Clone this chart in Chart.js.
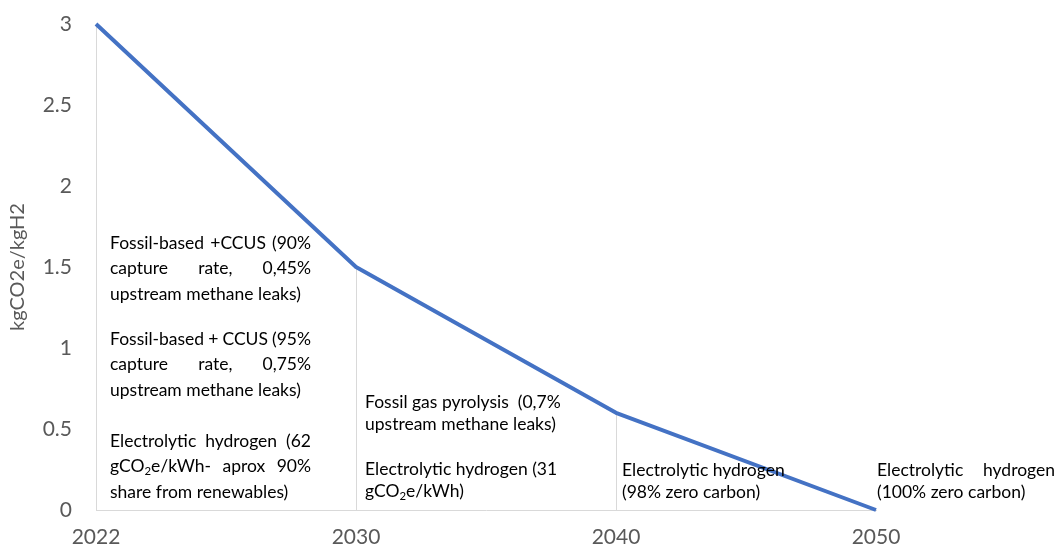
<!DOCTYPE html>
<html>
<head>
<meta charset="utf-8">
<script src="https://cdn.jsdelivr.net/npm/chart.js@4.4.1/dist/chart.umd.min.js"></script>
<style>
  html, body { margin: 0; padding: 0; background: #fff; }
  #wrap { width: 1060px; height: 549px; }
</style>
</head>
<body>
<div id="wrap"><canvas id="chart" width="1060" height="549"></canvas></div>
<script>
// data
const years = ["2022", "2030", "2040", "2050"];
const intensity = [3, 1.5, 0.6, 0]; // kgCO2e/kgH2
const yTickValues = [0, 0.5, 1, 1.5, 2, 2.5, 3];
const yTitle = "kgCO2e/kgH2";

// notes under each year, paragraphs of lines (₂ = subscript 2)
const notes2022 = [
  ["Fossil-based +CCUS (90%", "capture rate, 0,45%", "upstream methane leaks)"],
  ["Fossil-based + CCUS (95%", "capture rate, 0,75%", "upstream methane leaks)"],
  ["Electrolytic hydrogen (62", "gCO₂e/kWh- aprox 90%", "share from renewables)"]
];
const notes2030 = [
  ["Fossil gas pyrolysis  (0,7%", "upstream methane leaks)"],
  ["Electrolytic hydrogen (31", "gCO₂e/kWh)"]
];
const notes2040 = [["Electrolytic hydrogen", "(98% zero carbon)"]];
const notes2050 = [["Electrolytic hydrogen", "(100% zero carbon)"]];

const FONT = "Lato, 'Open Sans', sans-serif";
const greyText = "#595959";

// layout of the note blocks (pixels relative to the point / baseline)
const noteLayout = [
  { notes: notes2022, dx: 14, width: 201, justify: true, paraY: [267, 171, 69], step: 25.5 },
  { notes: notes2030, dx: 9, width: 0, justify: false, paraY: [108, 41], step: 22 },
  { notes: notes2040, dx: 6, width: 0, justify: false, paraY: [40], step: 22 },
  { notes: notes2050, dx: 1, width: 178, justify: true, justifyFirstOnly: true, paraY: [40], step: 22 }
];

function segsOf(str) {
  const out = [];
  let buf = "";
  for (const ch of str) {
    if (ch === "₂") {
      if (buf) out.push({ t: buf, sub: false });
      buf = "";
      out.push({ t: "2", sub: true });
    } else buf += ch;
  }
  if (buf) out.push({ t: buf, sub: false });
  return out;
}

function wordWidth(ctx, word, size) {
  let w = 0;
  segsOf(word).forEach(s => {
    ctx.font = (s.sub ? size * 0.65 : size) + "px " + FONT;
    w += ctx.measureText(s.t).width;
  });
  return w;
}

function drawWord(ctx, word, x, y, size) {
  segsOf(word).forEach(s => {
    const fs = s.sub ? size * 0.65 : size;
    ctx.font = fs + "px " + FONT;
    ctx.fillText(s.t, x, s.sub ? y + size * 0.3 : y);
    x += ctx.measureText(s.t).width;
  });
}

function drawLine(ctx, line, x, y, size, width) {
  if (!width) {
    drawWord(ctx, line, x, y, size);
    return;
  }
  const words = line.split(/ +/);
  const widths = words.map(w => wordWidth(ctx, w, size));
  const total = widths.reduce((a, b) => a + b, 0);
  const gap = words.length > 1 ? (width - total) / (words.length - 1) : 0;
  words.forEach((w, i) => {
    drawWord(ctx, w, x, y, size);
    x += widths[i] + gap;
  });
}

// thin grey drop lines from each point down to the axis
const dropLines = {
  id: "dropLines",
  beforeDatasetsDraw(chart) {
    const ctx = chart.ctx;
    const bottom = chart.chartArea.bottom;
    ctx.save();
    ctx.strokeStyle = "#d9d9d9";
    ctx.lineWidth = 1;
    chart.getDatasetMeta(0).data.forEach(p => {
      const x = Math.round(p.x) + 0.5;
      ctx.beginPath();
      ctx.moveTo(x, p.y);
      ctx.lineTo(x, bottom);
      ctx.stroke();
    });
    ctx.restore();
  }
};

// text notes under the line
const notesPlugin = {
  id: "notes",
  afterDatasetsDraw(chart) {
    const ctx = chart.ctx;
    const xs = chart.scales.x;
    const base = chart.scales.y.getPixelForValue(0);
    const size = 17.5;
    ctx.save();
    ctx.fillStyle = "#000";
    ctx.textBaseline = "middle";
    ctx.textAlign = "left";
    noteLayout.forEach((blk, i) => {
      const x0 = xs.getPixelForValue(i) + blk.dx;
      blk.notes.forEach((para, pi) => {
        para.forEach((line, li) => {
          const y = base - blk.paraY[pi] + li * blk.step;
          let w = 0;
          if (blk.justify) {
            if (blk.justifyFirstOnly) w = li === 0 ? blk.width : 0;
            else w = li < para.length - 1 ? blk.width : 0;
          }
          drawLine(ctx, line, x0, y, size, w);
        });
      });
    });
    ctx.restore();
  }
};

new Chart(document.getElementById("chart"), {
  type: "line",
  data: {
    labels: years,
    datasets: [{
      data: intensity,
      borderColor: "#4472C4",
      borderWidth: 4,
      pointRadius: 0,
      tension: 0,
      borderJoinStyle: "round",
      clip: false
    }]
  },
  options: {
    responsive: false,
    animation: false,
    events: [],
    layout: { padding: { top: 24, right: 184, left: 0, bottom: 0 } },
    plugins: { legend: { display: false }, tooltip: { enabled: false } },
    scales: {
      x: {
        offset: false,
        grid: { display: false, drawTicks: false },
        border: { display: true, color: "#d9d9d9", width: 1 },
        ticks: { color: greyText, font: { family: FONT, size: 21 }, padding: 15, maxRotation: 0 },
        afterFit(scale) { scale.height = 39; }
      },
      y: {
        min: 0,
        max: 3,
        afterBuildTicks(scale) { scale.ticks = yTickValues.map(v => ({ value: v })); },
        grid: { display: false, drawTicks: false },
        border: { display: false },
        ticks: { color: greyText, font: { family: FONT, size: 21 }, padding: 24, callback: v => String(v) },
        title: { display: true, text: yTitle, color: greyText, font: { family: FONT, size: 20 }, padding: { top: 6 } },
        afterFit(scale) {
          scale.width = 96;
          scale.paddingTop = 0;
          scale.paddingBottom = 0;
        }
      }
    }
  },
  plugins: [dropLines, notesPlugin]
});
</script>
</body>
</html>
